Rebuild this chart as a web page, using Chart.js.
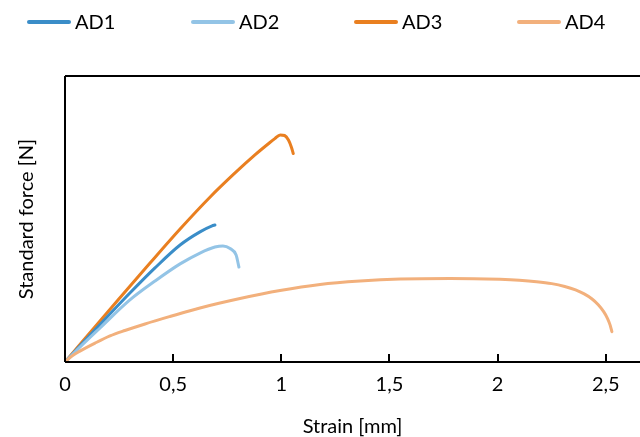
<!DOCTYPE html>
<html>
<head>
<meta charset="utf-8">
<script src="https://cdn.jsdelivr.net/npm/chart.js@4/dist/chart.umd.min.js"></script>
<style>
html,body{margin:0;padding:0;background:#fff;}
#wrap{width:640px;height:437px;}
</style>
</head>
<body>
<div id="wrap"><canvas id="c" width="640" height="437"></canvas></div>
<script>
// Series names
const seriesNames = ["AD1", "AD2", "AD3", "AD4"];
// Strain [mm] (x) and standard force (y, relative units) per series
const ad1X = [0, 0.116, 0.300, 0.416, 0.532, 0.624, 0.680, 0.693];
const ad1Y = [0, 9.4, 24.1, 32.9, 40.9, 45.5, 47.6, 47.9];
const ad2X = [0, 0.069, 0.162, 0.300, 0.416, 0.532, 0.624, 0.693, 0.730, 0.763, 0.791, 0.804];
const ad2Y = [0, 5.2, 11.9, 21.7, 28.3, 34.3, 38.1, 40.2, 40.6, 39.7, 37.4, 33.2];
const ad3X = [0, 0.245, 0.393, 0.532, 0.671, 0.786, 0.878, 0.940, 0.970, 0.995, 1.015, 1.033, 1.047, 1.055];
const ad3Y = [0, 21.7, 34.6, 46.5, 57.7, 66.1, 72.4, 76.3, 78.1, 79.4, 79.2, 77.6, 75.0, 72.9];
const ad4X = [0, 0.032, 0.069, 0.139, 0.208, 0.277, 0.370, 0.485, 0.624, 0.809, 0.994, 1.179, 1.364, 1.549, 1.780, 2.011, 2.100, 2.180, 2.250, 2.310, 2.360, 2.400, 2.435, 2.465, 2.490, 2.508, 2.520, 2.528];
const ad4Y = [0, 2.1, 3.8, 6.6, 9.1, 11.0, 13.3, 15.9, 18.9, 22.2, 25.0, 27.1, 28.3, 29.0, 29.2, 28.9, 28.6, 28.1, 27.4, 26.4, 25.2, 23.8, 22.1, 20.0, 17.6, 15.2, 12.9, 10.6];
// Axis tick values (x)
const xTicks = [0, 0.5, 1, 1.5, 2, 2.5];

const colors = ["#3A8DC8", "#93C4E6", "#E97F20", "#F2B07C"];
const FONT = "Lato, 'Open Sans', sans-serif";

function pts(xs, ys){ return xs.map((x,i)=>({x:x, y:ys[i]})); }
const seriesData = [pts(ad1X,ad1Y), pts(ad2X,ad2Y), pts(ad3X,ad3Y), pts(ad4X,ad4Y)];

const datasets = seriesNames.map((n,i)=>({
  label: n,
  data: seriesData[i],
  borderColor: colors[i],
  backgroundColor: colors[i],
  borderWidth: 3,
  pointRadius: 0,
  cubicInterpolationMode: 'monotone',
  fill: false,
  borderCapStyle: 'round'
}));
const ordered = [datasets[3], datasets[1], datasets[0], datasets[2]];
ordered.forEach((d,i)=>{ d.order = i; });

const framePlugin = {
  id: 'frame',
  afterDatasetsDraw(chart){
    const ctx = chart.ctx, a = chart.chartArea, xs = chart.scales.x;
    ctx.save();
    ctx.strokeStyle = '#000';
    ctx.lineWidth = 2;
    ctx.beginPath();
    ctx.moveTo(a.left, a.top);
    ctx.lineTo(a.right, a.top);
    ctx.moveTo(a.left, a.top);
    ctx.lineTo(a.left, a.bottom);
    ctx.moveTo(a.left, a.bottom);
    ctx.lineTo(a.right, a.bottom);
    ctx.stroke();
    xs.ticks.forEach(t=>{
      if (t.value === 0) return;
      const px = Math.round(xs.getPixelForValue(t.value));
      ctx.beginPath();
      ctx.moveTo(px, a.bottom);
      ctx.lineTo(px, a.bottom - 8);
      ctx.stroke();
    });
    ctx.restore();
  },
  afterDraw(chart){
    const ctx = chart.ctx;
    ctx.save();
    ctx.font = "20px " + FONT;
    ctx.textBaseline = 'middle';
    const starts = [27, 191, 354, 517];
    chart.data.datasets.forEach(ds=>{
      const i = seriesNames.indexOf(ds.label);
      const x0 = starts[i], y0 = 22;
      ctx.strokeStyle = ds.borderColor;
      ctx.lineWidth = 4;
      ctx.lineCap = 'round';
      ctx.beginPath();
      ctx.moveTo(x0+2, y0);
      ctx.lineTo(x0+42, y0);
      ctx.stroke();
      ctx.fillStyle = '#000';
      ctx.fillText(ds.label, x0 + 48, y0 + 1);
    });
    ctx.restore();
  }
};

new Chart(document.getElementById('c'), {
  type: 'line',
  data: { datasets: ordered },
  options: {
    responsive: false,
    animation: false,
    devicePixelRatio: 1,
    layout: { padding: { top: 76, right: 0, left: 0, bottom: 0 } },
    plugins: { legend: { display: false }, tooltip: { enabled: false } },
    scales: {
      x: {
        type: 'linear',
        min: 0,
        max: 2.658,
        border: { display: false },
        grid: { display: false, drawTicks: false },
        afterBuildTicks(scale){ scale.ticks = xTicks.map(v=>({value:v})); },
        ticks: {
          includeBounds: false,
          padding: 11,
          color: '#000',
          font: { family: FONT, size: 20 },
          maxRotation: 0,
          callback: v => String(v).replace('.', ',')
        },
        title: {
          display: true,
          text: 'Strain [mm]',
          color: '#000',
          font: { family: FONT, size: 20, lineHeight: 1.0 },
          padding: { top: 0, bottom: 0 }
        },
        afterFit(scale){ scale.height = 75; }
      },
      y: {
        type: 'linear',
        min: 0,
        max: 100,
        border: { display: false },
        grid: { display: false, drawTicks: false },
        ticks: { display: false },
        title: {
          display: true,
          text: 'Standard force [N]',
          color: '#000',
          font: { family: FONT, size: 20, lineHeight: 1.0 },
          padding: { top: 17, bottom: 0 }
        },
        afterFit(scale){ scale.width = 65; }
      }
    }
  },
  plugins: [framePlugin]
});
</script>
</body>
</html>
